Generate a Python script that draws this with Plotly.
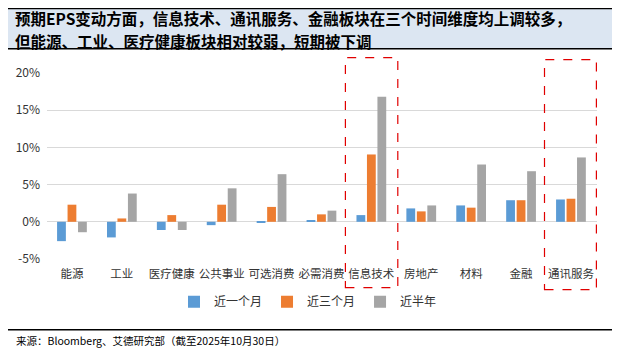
import plotly.graph_objects as go

categories = ["能源", "工业", "医疗健康", "公共事业", "可选消费", "必需消费",
              "信息技术", "房地产", "材料", "金融", "通讯服务"]
one_month = [-2.6, -2.1, -1.1, -0.45, -0.15, 0.15, 0.9, 1.8, 2.2, 2.9, 3.0]
three_month = [2.3, 0.45, 0.9, 2.3, 2.0, 1.0, 9.05, 1.4, 1.9, 2.9, 3.1]
half_year = [-1.4, 3.8, -1.1, 4.5, 6.4, 1.5, 16.8, 2.2, 7.7, 6.8, 8.65]
series_names = ["近一个月", "近三个月", "近半年"]
colors = ["#5B9BD5", "#ED7D31", "#A5A5A5"]
tick_vals = [-5, 0, 5, 10, 15, 20]
tick_text = ["-5%", "0%", "5%", "10%", "15%", "20%"]

title_lines = ["预期EPS变动方面，信息技术、通讯服务、金融板块在三个时间维度均上调较多，",
               "但能源、工业、医疗健康板块相对较弱，短期被下调"]
source_text = "来源：Bloomberg、艾德研究部（截至2025年10月30日）"

PAGE_W, PAGE_H = 620, 355
OFF = 8  # default body margin of the html page
W, H = PAGE_W - OFF, PAGE_H - OFF
# plot area in page pixels
L, R = 47, 597
T, B = 73.3, 259.3


def px(x):
    return (x - L) / (R - L)


def py(y):
    return (B - y) / (B - T)


FONT = "Noto Sans CJK SC"

fig = go.Figure()
for name, vals, c in zip(series_names, [one_month, three_month, half_year], colors):
    fig.add_trace(go.Bar(x=categories, y=vals, name=name, marker=dict(color=c, line=dict(width=0))))

shapes = [
    # title box
    dict(type="rect", xref="paper", yref="paper", x0=px(5), x1=px(612), y0=py(8), y1=py(49),
         fillcolor="#DCE6F2", line=dict(width=0), layer="below"),
    dict(type="line", xref="paper", yref="paper", x0=px(5), x1=px(612), y0=py(8.5), y1=py(8.5),
         line=dict(color="black", width=2)),
    dict(type="line", xref="paper", yref="paper", x0=px(5), x1=px(612), y0=py(49), y1=py(49),
         line=dict(color="black", width=1.5)),
    # bottom rule
    dict(type="line", xref="paper", yref="paper", x0=px(6), x1=px(612), y0=py(330), y1=py(330),
         line=dict(color="black", width=1.5)),
    # red dashed highlight boxes
    dict(type="rect", xref="x", yref="paper", x0=5.48, x1=6.53, y0=py(288), y1=py(58),
         line=dict(color="#E00000", width=1.2, dash="dash"), fillcolor="rgba(0,0,0,0)"),
    dict(type="rect", xref="x", yref="paper", x0=9.47, x1=10.51, y0=py(290), y1=py(60),
         line=dict(color="#E00000", width=1.2, dash="dash"), fillcolor="rgba(0,0,0,0)"),
]

annotations = [
    dict(text="<b>" + title_lines[0] + "</b>",
         xref="paper", yref="paper", x=px(13), y=py(18.3),
         xanchor="left", yanchor="middle", align="left", showarrow=False,
         font=dict(family=FONT, size=15.5, color="black")),
    dict(text="<b>" + title_lines[1] + "</b>",
         xref="paper", yref="paper", x=px(13), y=py(41),
         xanchor="left", yanchor="middle", align="left", showarrow=False,
         font=dict(family=FONT, size=15.5, color="black")),
    dict(text=source_text, xref="paper", yref="paper", x=px(14), y=py(341),
         xanchor="left", yanchor="middle", showarrow=False,
         font=dict(family=FONT, size=10.5, color="black")),
]

fig.update_layout(
    width=W, height=H,
    margin=dict(l=L - OFF, r=W - (R - OFF), t=T - OFF, b=H - (B - OFF), pad=0, autoexpand=False),
    paper_bgcolor="white", plot_bgcolor="white",
    barmode="group", bargap=0.37, bargroupgap=0.16,
    font=dict(family=FONT, size=12, color="#333333"),
    shapes=shapes, annotations=annotations,
    legend=dict(orientation="h", x=px(308), y=py(302), xanchor="center", yanchor="middle",
                font=dict(family=FONT, size=12, color="#333333"), itemwidth=30,
                tracegroupgap=0, bgcolor="rgba(0,0,0,0)"),
    showlegend=True,
)
fig.update_xaxes(showgrid=False, showline=False, ticks="", tickfont=dict(size=11.5),
                 tickangle=0, automargin=False, ticklabelstandoff=6)
fig.update_yaxes(range=[-5, 20], tickvals=tick_vals, ticktext=tick_text,
                 showgrid=True, gridcolor="#D9D9D9", gridwidth=1,
                 zeroline=True, zerolinecolor="#D9D9D9", zerolinewidth=1,
                 showline=False, ticks="", tickfont=dict(size=12), ticklabelstandoff=6,
                 automargin=False)

fig.write_html("out.html")
